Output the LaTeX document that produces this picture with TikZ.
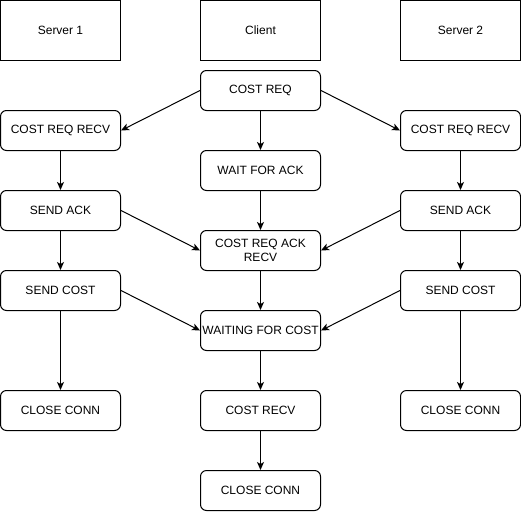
\documentclass[tikz,border=0pt]{standalone}
\usepackage{fontspec}
\setmainfont{Liberation Sans}
\usepackage{tikz}
\usetikzlibrary{arrows.meta}

\begin{document}
\begin{tikzpicture}[x=1pt, y=-1pt,
  header/.style={draw, rectangle, line width=1pt, minimum width=120pt, minimum height=60pt, inner sep=0pt, font=\fontsize{12}{14}\selectfont},
  state/.style={draw, rectangle, rounded corners=6pt, line width=1pt, minimum width=120pt, minimum height=40pt, inner sep=0pt, align=center, font=\fontsize{12}{14}\selectfont},
  flow/.style={-{Stealth[length=8pt, width=7pt, inset=2pt]}, line width=1pt}
]
\useasboundingbox (0,0) rectangle (521,511);

\node[header] (srvA) at (60.5, 30.5) {Server 1};
\node[header] (cli) at (260.5, 30.5) {Client};
\node[header] (srvB) at (460.5, 30.5) {Server 2};

\node[state] (req) at (260.5, 90.5) {COST REQ};
\node[state] (recvA) at (60.5, 130.5) {COST REQ RECV};
\node[state] (recvB) at (460.5, 130.5) {COST REQ RECV};
\node[state] (wait) at (260.5, 170.5) {WAIT FOR ACK};
\node[state] (ackA) at (60.5, 210.5) {SEND ACK};
\node[state] (ackB) at (460.5, 210.5) {SEND ACK};
\node[state] (ackrecv) at (260.5, 250.5) {COST REQ ACK\\RECV};
\node[state] (costA) at (60.5, 290.5) {SEND COST};
\node[state] (costB) at (460.5, 290.5) {SEND COST};
\node[state] (waitcost) at (260.5, 330.5) {WAITING FOR COST};
\node[state] (closeA) at (60.5, 410.5) {CLOSE CONN};
\node[state] (costrecv) at (260.5, 410.5) {COST RECV};
\node[state] (closeB) at (460.5, 410.5) {CLOSE CONN};
\node[state] (closeC) at (260.5, 490.5) {CLOSE CONN};

% Connections
\draw[flow] (req.west) -- (recvA.east);
\draw[flow] (req.east) -- (recvB.west);
\draw[flow] (req) -- (wait);
\draw[flow] (wait) -- (ackrecv);
\draw[flow] (ackrecv) -- (waitcost);
\draw[flow] (waitcost) -- (costrecv);
\draw[flow] (costrecv) -- (closeC);

\draw[flow] (recvA) -- (ackA);
\draw[flow] (ackA) -- (costA);
\draw[flow] (costA) -- (closeA);
\draw[flow] (ackA.east) -- (ackrecv.west);
\draw[flow] (costA.east) -- (waitcost.west);

\draw[flow] (recvB) -- (ackB);
\draw[flow] (ackB) -- (costB);
\draw[flow] (costB) -- (closeB);
\draw[flow] (ackB.west) -- (ackrecv.east);
\draw[flow] (costB.west) -- (waitcost.east);

\end{tikzpicture}
\end{document}
